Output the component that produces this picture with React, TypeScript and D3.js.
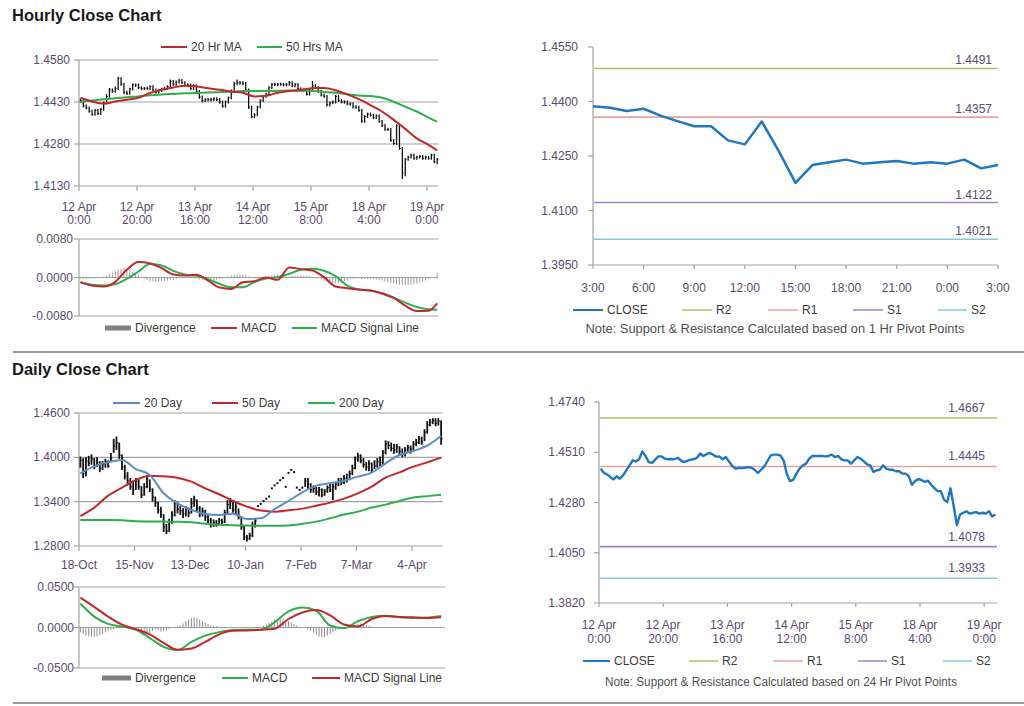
import React from 'react';
import * as d3 from 'd3';

// ---------------- Hourly data (12 Apr 0:00 .. 19 Apr 3:00, one per trading hour) ----------------
const hourlyTickLabels = [
  ['12 Apr', '0:00'], ['12 Apr', '20:00'], ['13 Apr', '16:00'], ['14 Apr', '12:00'],
  ['15 Apr', '8:00'], ['18 Apr', '4:00'], ['19 Apr', '0:00'],
];
const hourlyClose = [
  1.4435, 1.4416, 1.4409, 1.4397, 1.4386, 1.4400, 1.4389, 1.4404, 1.4427, 1.4450,
  1.4473, 1.4468, 1.4478, 1.4514, 1.4493, 1.4465, 1.4461, 1.4476, 1.4491, 1.4491,
  1.4481, 1.4478, 1.4479, 1.4478, 1.4485, 1.4473, 1.4465, 1.4471, 1.4476, 1.4478,
  1.4484, 1.4504, 1.4493, 1.4501, 1.4507, 1.4499, 1.4490, 1.4491, 1.4478, 1.4488,
  1.4468, 1.4448, 1.4435, 1.4438, 1.4438, 1.4439, 1.4442, 1.4439, 1.4430, 1.4415,
  1.4430, 1.4445, 1.4470, 1.4496, 1.4499, 1.4499, 1.4496, 1.4473, 1.4412, 1.4378,
  1.4384, 1.4412, 1.4435, 1.4450, 1.4458, 1.4481, 1.4493, 1.4493, 1.4493, 1.4493,
  1.4491, 1.4493, 1.4499, 1.4488, 1.4493, 1.4478, 1.4473, 1.4473, 1.4458, 1.4473,
  1.4488, 1.4481, 1.4468, 1.4455, 1.4450, 1.4420, 1.4427, 1.4430, 1.4450, 1.4435,
  1.4430, 1.4430, 1.4423, 1.4423, 1.4412, 1.4412, 1.4400, 1.4361, 1.4378,
  1.4387, 1.4383, 1.4374, 1.4380, 1.4361, 1.4346, 1.4332, 1.4332, 1.4293, 1.4282,
  1.4345, 1.4264, 1.4176, 1.4225, 1.4233, 1.4240, 1.4229, 1.4233, 1.4236, 1.4229,
  1.4233, 1.4229, 1.4240, 1.4216, 1.4225,
];
const hourlyHigh = [
  1.4442, 1.4440, 1.4421, 1.4414, 1.4402, 1.4405, 1.4405, 1.4409, 1.4432, 1.4458,
  1.4480, 1.4478, 1.4485, 1.4520, 1.4518, 1.4498, 1.4470, 1.4481, 1.4496, 1.4496,
  1.4496, 1.4486, 1.4484, 1.4485, 1.4490, 1.4490, 1.4478, 1.4476, 1.4481, 1.4484,
  1.4490, 1.4510, 1.4509, 1.4507, 1.4513, 1.4512, 1.4504, 1.4497, 1.4496, 1.4494,
  1.4493, 1.4473, 1.4453, 1.4443, 1.4444, 1.4445, 1.4447, 1.4447, 1.4444, 1.4435,
  1.4435, 1.4450, 1.4475, 1.4502, 1.4510, 1.4505, 1.4504, 1.4501, 1.4478, 1.4417,
  1.4390, 1.4417, 1.4440, 1.4455, 1.4463, 1.4486, 1.4498, 1.4499, 1.4498, 1.4499,
  1.4498, 1.4498, 1.4505, 1.4504, 1.4498, 1.4498, 1.4483, 1.4479, 1.4478, 1.4478,
  1.4505, 1.4493, 1.4486, 1.4473, 1.4460, 1.4455, 1.4432, 1.4435, 1.4455, 1.4455,
  1.4440, 1.4436, 1.4435, 1.4429, 1.4428, 1.4418, 1.4417, 1.4405, 1.4383,
  1.4392, 1.4392, 1.4388, 1.4385, 1.4385, 1.4366, 1.4351, 1.4338, 1.4337, 1.4298,
  1.4350, 1.4350, 1.4269, 1.4230, 1.4238, 1.4245, 1.4245, 1.4238, 1.4241, 1.4241,
  1.4238, 1.4238, 1.4245, 1.4245, 1.4230,
];
const hourlyLow = [
  1.4428, 1.4411, 1.4404, 1.4392, 1.4381, 1.4381, 1.4384, 1.4384, 1.4399, 1.4422,
  1.4445, 1.4463, 1.4463, 1.4473, 1.4488, 1.4458, 1.4455, 1.4456, 1.4471, 1.4484,
  1.4476, 1.4473, 1.4472, 1.4473, 1.4473, 1.4468, 1.4460, 1.4460, 1.4466, 1.4471,
  1.4473, 1.4479, 1.4488, 1.4488, 1.4496, 1.4494, 1.4485, 1.4484, 1.4472, 1.4473,
  1.4462, 1.4442, 1.4428, 1.4430, 1.4432, 1.4432, 1.4434, 1.4433, 1.4424, 1.4410,
  1.4410, 1.4425, 1.4440, 1.4465, 1.4490, 1.4492, 1.4490, 1.4467, 1.4405, 1.4372,
  1.4372, 1.4379, 1.4407, 1.4430, 1.4445, 1.4453, 1.4476, 1.4487, 1.4487, 1.4488,
  1.4486, 1.4486, 1.4488, 1.4483, 1.4483, 1.4473, 1.4468, 1.4467, 1.4453, 1.4453,
  1.4468, 1.4476, 1.4463, 1.4450, 1.4445, 1.4414, 1.4414, 1.4422, 1.4425, 1.4430,
  1.4425, 1.4424, 1.4418, 1.4417, 1.4407, 1.4406, 1.4395, 1.4356, 1.4356,
  1.4373, 1.4378, 1.4369, 1.4369, 1.4356, 1.4341, 1.4327, 1.4326, 1.4288, 1.4277,
  1.4277, 1.4259, 1.4155, 1.4165, 1.4220, 1.4228, 1.4224, 1.4224, 1.4228, 1.4224,
  1.4224, 1.4224, 1.4224, 1.4211, 1.4208,
];
const hourlySampleIdx = [0, 4, 8, 12, 16, 20, 24, 28, 32, 36, 40, 44, 48, 52, 56, 60, 64, 68, 72, 76, 80, 84, 88, 92, 96, 100, 104, 108, 112, 116, 120, 123];
const ma20Hr = [1.4445, 1.4432, 1.4424, 1.4432, 1.4438, 1.4445, 1.4462, 1.4474, 1.4482, 1.4488, 1.4485, 1.4479, 1.4474, 1.4467, 1.4463, 1.4450, 1.4452, 1.4463, 1.4469, 1.4473, 1.4479, 1.4480, 1.4472, 1.4457, 1.4440, 1.4419, 1.4396, 1.4366, 1.4334, 1.4300, 1.4277, 1.4257];
const ma50Hr = [1.4431, 1.4435, 1.4440, 1.4443, 1.4447, 1.4450, 1.4454, 1.4457, 1.4459, 1.4461, 1.4462, 1.4464, 1.4465, 1.4467, 1.4469, 1.4469, 1.4469, 1.4470, 1.4471, 1.4470, 1.4469, 1.4466, 1.4463, 1.4458, 1.4453, 1.4451, 1.4445, 1.4431, 1.4413, 1.4396, 1.4374, 1.4360];
const hourlyMacd = [-0.00097, -0.00167, -0.00188, -0.00090, 0.00160, 0.00320, 0.00292, 0.00195, 0.00063, 0.00042, 0.00056, -0.00063, -0.00209, -0.00237, -0.00097, -0.00077, 0.0, -0.00049, 0.00210, 0.00174, 0.00146, 0.00007, -0.00188, -0.00223, -0.00251, -0.00271, -0.00334, -0.00425, -0.00585, -0.00696, -0.00689, -0.00536];
const hourlySignal = [-0.00097, -0.00153, -0.00167, -0.00139, -0.00028, 0.00125, 0.00280, 0.00251, 0.00139, 0.00063, 0.00035, -0.00035, -0.00132, -0.00202, -0.00202, -0.00097, -0.00021, 0.00007, 0.00077, 0.00160, 0.00181, 0.00139, 0.00028, -0.00167, -0.00251, -0.00271, -0.00327, -0.00418, -0.00522, -0.00612, -0.00661, -0.00668];
const hourlyDiv = [
  -0.0002, -0.0003, -0.0003, -0.0003, -0.0002, -0.0002, -0.0001, 0.0000, 0.0002, 0.0004,
  0.0007, 0.0010, 0.0013, 0.0016, 0.0018, 0.0019, 0.0017, 0.0015, 0.0012, 0.0008,
  0.0004, 0.0001, -0.0003, -0.0005, -0.0007, -0.0008, -0.0009, -0.0009, -0.0008, -0.0008,
  -0.0007, -0.0006, -0.0005, -0.0003, -0.0002, -0.0001, 0.0000, 0.0001, 0.0001, -0.0001,
  -0.0002, -0.0004, -0.0005, -0.0006, -0.0007, -0.0007, -0.0006, -0.0005, -0.0003, -0.0002,
  0.0000, 0.0002, 0.0004, 0.0005, 0.0006, 0.0006, 0.0005, 0.0004, 0.0002, 0.0000,
  -0.0002, -0.0002, -0.0001, 0.0001, 0.0002, 0.0003, 0.0004, 0.0005, 0.0006, 0.0005,
  0.0001, 0.0002, 0.0002, 0.0003, 0.0003, 0.0004, 0.0004, 0.0003, 0.0003, 0.0002,
  0.0001, 0.0000, -0.0002, -0.0004, -0.0007, -0.0009, -0.0011, -0.0012, -0.0012, -0.0011,
  -0.0010, -0.0008, -0.0006, -0.0004, -0.0003, -0.0002, -0.0002, -0.0003, -0.0003, -0.0003,
  -0.0003, -0.0003, -0.0004, -0.0005, -0.0006, -0.0008, -0.0010, -0.0012, -0.0013, -0.0014,
  -0.0015, -0.0015, -0.0016, -0.0016, -0.0015, -0.0014, -0.0013, -0.0011, -0.0009, -0.0006,
  -0.0003, -0.0001, 0.0000, 0.0010,
];
const hourlyMainTicks = [1.4130, 1.4280, 1.4430, 1.4580];
const hourlyMacdTicks = [-0.008, 0.0, 0.008];

// ---------------- Hourly pivot chart (last 24 hours) ----------------
const pivotHourLabels = ['3:00', '6:00', '9:00', '12:00', '15:00', '18:00', '21:00', '0:00', '3:00'];
const pivotHourClose = [
  1.4387, 1.4383, 1.4374, 1.4380, 1.4361, 1.4346, 1.4332, 1.4332, 1.4293, 1.4282,
  1.4345, 1.4264, 1.4176, 1.4225, 1.4233, 1.4240, 1.4229, 1.4233, 1.4236, 1.4229,
  1.4233, 1.4229, 1.4240, 1.4216, 1.4225,
];
const pivotHourTicks = [1.3950, 1.4100, 1.4250, 1.4400, 1.4550];
const levelNames = ['R2', 'R1', 'S1', 'S2'];
const hourPivotLevels = [1.4491, 1.4357, 1.4122, 1.4021];
const dayPivotLevels = [1.4667, 1.4445, 1.4078, 1.3933];
const pivotDayTicks = [1.3820, 1.4050, 1.4280, 1.4510, 1.4740];

// ---------------- Daily data (18-Oct .. 19-Apr, trading days) ----------------
const dailyTickLabels = ['18-Oct', '15-Nov', '13-Dec', '10-Jan', '7-Feb', '7-Mar', '4-Apr'];
const dailyClose = [
  1.3960, 1.3780, 1.3950, 1.3920, 1.3980, 1.3890, 1.3930, 1.3850, 1.3900, 1.3940,
  1.3880, 1.3990, 1.4150, 1.4200, 1.4030, 1.3870, 1.3740, 1.3680, 1.3600, 1.3560,
  1.3680, 1.3600, 1.3490, 1.3600, 1.3700, 1.3570, 1.3460, 1.3380, 1.3290, 1.3230,
  1.3060, 1.3000, 1.3120, 1.3220, 1.3380, 1.3300, 1.3280, 1.3240, 1.3300, 1.3250,
  1.3380, 1.3420, 1.3310, 1.3240, 1.3270, 1.3190, 1.3150, 1.3090, 1.3120, 1.3100,
  1.3150, 1.3120, 1.3250, 1.3360, 1.3400, 1.3290, 1.3330, 1.3190, 1.3060, 1.2920,
  1.2900, 1.2940, 1.3080, 1.3140, 1.3340, 1.3370, 1.3410, 1.3440, 1.3470, 1.3580,
  1.3620, 1.3650, 1.3690, 1.3720, 1.3600, 1.3790, 1.3830, 1.3800, 1.3590, 1.3560,
  1.3590, 1.3680, 1.3640, 1.3560, 1.3580, 1.3530, 1.3560, 1.3490, 1.3540, 1.3590,
  1.3560, 1.3600, 1.3640, 1.3680, 1.3660, 1.3720, 1.3700, 1.3780, 1.3850, 1.3980,
  1.4020, 1.3960, 1.3900, 1.3870, 1.3920, 1.3830, 1.3880, 1.3940, 1.3930, 1.4060,
  1.4180, 1.4160, 1.4120, 1.4100, 1.4140, 1.4080, 1.4050, 1.4100, 1.4130, 1.4110,
  1.4180, 1.4200, 1.4250, 1.4210, 1.4340, 1.4440, 1.4480, 1.4500, 1.4460, 1.4490, 1.4250,
];
const N = null;
const dailyHigh = [
  1.4010, 1.3990, 1.4000, 1.4020, 1.4040, 1.3990, 1.4000, 1.3950, 1.3950, 1.3980,
  1.3960, 1.4060, 1.4250, 1.4280, 1.4200, 1.4040, 1.3900, 1.3800, 1.3720, 1.3680,
  1.3720, 1.3700, 1.3610, 1.3650, 1.3760, 1.3700, 1.3580, 1.3470, 1.3400, 1.3330,
  1.3230, 1.3100, 1.3170, 1.3270, 1.3420, 1.3400, 1.3340, 1.3310, 1.3340, 1.3320,
  1.3450, 1.3480, 1.3430, 1.3340, 1.3320, 1.3290, 1.3230, 1.3180, 1.3160, 1.3150,
  1.3180, 1.3170, 1.3290, 1.3420, 1.3450, 1.3400, 1.3380, 1.3310, 1.3200, 1.3070,
  1.2950, 1.2980, 1.3130, 1.3170, N, N, N, N, N, N,
  N, N, N, N, N, N, N, N, N, N,
  N, 1.3720, 1.3720, 1.3650, 1.3620, 1.3600, 1.3600, 1.3580, 1.3570, 1.3620,
  1.3640, 1.3640, 1.3670, 1.3720, 1.3720, 1.3760, 1.3780, 1.3820, 1.3900, 1.4010,
  1.4060, 1.4040, 1.3990, 1.3940, 1.3960, 1.3930, 1.3960, 1.3990, 1.4010, 1.4100,
  1.4230, 1.4220, 1.4200, 1.4180, 1.4180, 1.4150, 1.4120, 1.4140, 1.4170, 1.4160,
  1.4220, 1.4250, 1.4290, 1.4280, 1.4380, 1.4490, 1.4520, 1.4530, 1.4530, 1.4530, 1.4500,
];
const dailyLow = [
  1.3860, 1.3720, 1.3740, 1.3880, 1.3900, 1.3840, 1.3870, 1.3800, 1.3830, 1.3860,
  1.3860, 1.3940, 1.4060, 1.4100, 1.3980, 1.3830, 1.3700, 1.3620, 1.3560, 1.3490,
  1.3560, 1.3560, 1.3450, 1.3480, 1.3580, 1.3530, 1.3400, 1.3330, 1.3240, 1.3180,
  1.2990, 1.2960, 1.2990, 1.3100, 1.3200, 1.3240, 1.3220, 1.3180, 1.3200, 1.3190,
  1.3240, 1.3330, 1.3260, 1.3190, 1.3200, 1.3140, 1.3090, 1.3050, 1.3060, 1.3060,
  1.3080, 1.3080, 1.3110, 1.3220, 1.3300, 1.3250, 1.3230, 1.3160, 1.3020, 1.2880,
  1.2860, 1.2880, 1.2920, 1.3050, N, N, N, N, N, N,
  N, N, N, N, N, N, N, N, N, N,
  N, 1.3600, 1.3560, 1.3520, 1.3520, 1.3490, 1.3470, 1.3460, 1.3480, 1.3520,
  1.3530, 1.3420, 1.3560, 1.3610, 1.3620, 1.3640, 1.3660, 1.3690, 1.3760, 1.3840,
  1.3940, 1.3920, 1.3860, 1.3820, 1.3810, 1.3800, 1.3840, 1.3860, 1.3880, 1.3900,
  1.4040, 1.4110, 1.4080, 1.4050, 1.4060, 1.4030, 1.4000, 1.4010, 1.4060, 1.4050,
  1.4100, 1.4150, 1.4180, 1.4170, 1.4220, 1.4320, 1.4420, 1.4450, 1.4420, 1.4430, 1.4170,
];
const dailySampleIdx = [0, 5, 10, 15, 20, 25, 30, 35, 40, 45, 50, 55, 60, 65, 70, 75, 80, 85, 90, 95, 100, 105, 110, 115, 120, 125, 130];
const ma20Day = [1.3784, 1.3878, 1.3932, 1.3964, 1.3842, 1.3761, 1.3513, 1.3378, 1.3288, 1.3233, 1.3220, 1.3238, 1.3166, 1.3175, 1.3301, 1.3409, 1.3527, 1.3617, 1.3648, 1.3684, 1.3739, 1.3793, 1.3919, 1.4032, 1.4086, 1.4158, 1.4289];
const ma50Day = [1.3206, 1.3319, 1.3481, 1.3590, 1.3693, 1.3752, 1.3743, 1.3725, 1.3671, 1.3581, 1.3500, 1.3409, 1.3333, 1.3279, 1.3265, 1.3283, 1.3306, 1.3346, 1.3387, 1.3441, 1.3513, 1.3603, 1.3725, 1.3797, 1.3874, 1.3932, 1.3996];
const ma200Day = [1.3152, 1.3152, 1.3152, 1.3150, 1.3135, 1.3132, 1.3130, 1.3128, 1.3122, 1.3100, 1.3088, 1.3080, 1.3076, 1.3075, 1.3075, 1.3078, 1.3100, 1.3130, 1.3175, 1.3225, 1.3265, 1.3320, 1.3360, 1.3410, 1.3455, 1.3475, 1.3495];
const dailyMacd = [0.0296, 0.0134, 0.0045, 0.0012, -0.0028, -0.0130, -0.0239, -0.0279, -0.0178, -0.0101, -0.0057, -0.0032, -0.0028, -0.0028, 0.0065, 0.0198, 0.0247, 0.0207, 0.0024, -0.0008, 0.0077, 0.0130, 0.0146, 0.0126, 0.0117, 0.0122, 0.0142];
const dailySignal = [0.0369, 0.0255, 0.0134, 0.0036, -0.0020, -0.0085, -0.0190, -0.0275, -0.0259, -0.0178, -0.0085, -0.0041, -0.0036, -0.0028, -0.0016, 0.0105, 0.0186, 0.0215, 0.0150, 0.0036, 0.0012, 0.0105, 0.0142, 0.0130, 0.0126, 0.0117, 0.0126];
const dailyDiv = [
  -0.0060, -0.0080, -0.0100, -0.0110, -0.0115, -0.0118, -0.0110, -0.0095, -0.0080, -0.0060,
  -0.0040, -0.0030, -0.0020, -0.0010, -0.0005, 0.0005, 0.0010, 0.0005, -0.0010, -0.0025,
  -0.0035, -0.0045, -0.0055, -0.0065, -0.0070, -0.0065, -0.0040, -0.0020, -0.0030, -0.0050,
  -0.0045, -0.0035, -0.0020, -0.0005, 0.0005, 0.0015, 0.0025, 0.0050, 0.0080, 0.0100,
  0.0115, 0.0125, 0.0120, 0.0100, 0.0080, 0.0060, 0.0045, 0.0030, 0.0020, 0.0015,
  0.0010, 0.0008, 0.0006, 0.0005, 0.0004, 0.0003, 0.0002, 0.0001, 0.0001, 0.0000,
  0.0000, 0.0001, 0.0001, 0.0002, 0.0005, 0.0010, 0.0020, 0.0035, 0.0055, 0.0075,
  0.0090, 0.0105, 0.0114, 0.0110, 0.0095, 0.0080, 0.0060, 0.0040, 0.0025, 0.0010,
  0.0005, -0.0005, -0.0020, -0.0040, -0.0065, -0.0090, -0.0110, -0.0122, -0.0120, -0.0100,
  -0.0080, -0.0060, -0.0040, -0.0025, -0.0015, -0.0010, -0.0005, 0.0005, 0.0015, 0.0030,
  0.0045, 0.0050, 0.0040, 0.0030, 0.0020, 0.0012, 0.0008, 0.0005, 0.0003, 0.0002,
  0.0001, -0.0002, -0.0004, -0.0006, -0.0005, -0.0003, -0.0002, -0.0004, -0.0006, -0.0005,
  -0.0003, -0.0002, -0.0004, -0.0006, -0.0005, -0.0003, -0.0002, -0.0001, 0.0002, 0.0005, 0.0003,
];
const dailyMainTicks = [1.28, 1.34, 1.40, 1.46];
const dailyMacdTicks = [-0.05, 0.0, 0.05];

// ---------------- styling ----------------
const FONT = "'Liberation Sans', Arial, Helvetica, sans-serif";
const GRID = '#a3a3a3';
const AXLBL = '#5b4a70';
const LEG = '#3c3c3c';
const RED = '#c1272d';
const GREEN = '#2db04b';
const BLUE20 = '#5a8dc8';
const CLOSEBLUE = '#1f77c0';
const DIVGRAY = '#8c8c8c';
const levelColors = ['#a8c466', '#e8a2a2', '#9f82c2', '#86c8de'];

type Sc = d3.ScaleLinear<number, number>;

function pathOf(xs: number[], ys: number[], x: Sc, y: Sc, curve: d3.CurveFactory = d3.curveLinear): string {
  const gen = d3.line<number>().x((_, i) => x(xs[i])).y((v) => y(v)).curve(curve);
  return gen(ys) || '';
}

function LegLine(p: { x1: number; x2: number; y: number; color: string; label: string; w?: number; tx?: number }) {
  return (
    <g>
      <line x1={p.x1} x2={p.x2} y1={p.y} y2={p.y} stroke={p.color} strokeWidth={p.w ?? 2} />
      <text x={p.tx ?? p.x2 + 4} y={p.y + 4} fontSize={12} fill={LEG}>{p.label}</text>
    </g>
  );
}

function LegBox(p: { x1: number; x2: number; y: number; label: string }) {
  return (
    <g>
      <rect x={p.x1} y={p.y - 2.5} width={p.x2 - p.x1} height={5} fill="#7f7f7f" />
      <text x={p.x2 + 4} y={p.y + 4} fontSize={12} fill={LEG}>{p.label}</text>
    </g>
  );
}

export default function App() {
  // scales
  const xH = d3.scaleLinear().domain([0, 124]).range([79, 438.6]);
  const yH = d3.scaleLinear().domain([1.413, 1.458]).range([186, 60]);
  const yHM = d3.scaleLinear().domain([-0.008, 0.008]).range([316, 239]);
  const xHP = d3.scaleLinear().domain([0, 24]).range([593, 998]);
  const yHP = d3.scaleLinear().domain([1.395, 1.455]).range([265, 47]);
  const xD = d3.scaleLinear().domain([0, 131]).range([79, 442.5]);
  const yD = d3.scaleLinear().domain([1.28, 1.46]).range([546, 413]);
  const yDM = d3.scaleLinear().domain([-0.05, 0.05]).range([668, 587]);
  const xDP = d3.scaleLinear().domain([0, 124]).range([599, 997]);
  const yDP = d3.scaleLinear().domain([1.382, 1.474]).range([603, 402]);

  const hIdxMid = hourlySampleIdx.map((i) => i + 0.5);
  const dIdxMid = dailySampleIdx.map((i) => i + 0.5);
  const hAll = hourlyClose.map((_, i) => i + 0.5);
  const hPiv = pivotHourClose.map((_, i) => i);
  const smooth = d3.curveMonotoneX;

  const hTickIdx = hourlyTickLabels.map((_, k) => k * 20);
  const dTickIdx = dailyTickLabels.map((_, k) => k * 20);

  return (
    <svg width={1024} height={706} viewBox="0 0 1024 706"
      style={{ position: 'absolute', left: 0, top: 0, background: '#fff', fontFamily: FONT }}>
      <rect x={0} y={0} width={1024} height={706} fill="#fff" />

      {/* Titles and separators */}
      <text x={12} y={21} fontSize={16.5} fontWeight="bold" fill="#1a1a1a">Hourly Close Chart</text>
      <text x={12} y={375} fontSize={16.5} fontWeight="bold" fill="#1a1a1a">Daily Close Chart</text>
      <line x1={13} x2={1024} y1={352} y2={352} stroke="#9a9a9a" strokeWidth={2} />
      <line x1={13} x2={1024} y1={703} y2={703} stroke="#9a9a9a" strokeWidth={2} />

      {/* ================= Hourly main ================= */}
      <g>
        {hourlyMainTicks.map((v) => (
          <g key={'hg' + v}>
            <line x1={79} x2={438.6} y1={yH(v)} y2={yH(v)} stroke={GRID} strokeWidth={1.2} />
            <line x1={74} x2={79} y1={yH(v)} y2={yH(v)} stroke={GRID} strokeWidth={1.2} />
            <text x={70} y={yH(v) + 4} fontSize={12} textAnchor="end" fill={AXLBL}>{v.toFixed(4)}</text>
          </g>
        ))}
        <line x1={79} x2={79} y1={yH(1.458)} y2={yH(1.413)} stroke={GRID} strokeWidth={1.2} />
        {hTickIdx.map((t, k) => (
          <g key={'hx' + k}>
            <line x1={xH(t)} x2={xH(t)} y1={186} y2={191} stroke={GRID} strokeWidth={1.2} />
            <text x={xH(t)} y={210.5} fontSize={12} textAnchor="middle" fill={AXLBL}>{hourlyTickLabels[k][0]}</text>
            <text x={xH(t)} y={223.5} fontSize={12} textAnchor="middle" fill={AXLBL}>{hourlyTickLabels[k][1]}</text>
          </g>
        ))}
        {hourlyClose.map((c, i) => (
          <g key={'hb' + i}>
            <line x1={xH(i + 0.5)} x2={xH(i + 0.5)} y1={yH(hourlyHigh[i])} y2={yH(hourlyLow[i])} stroke="#111" strokeWidth={1.3} />
            <line x1={xH(i + 0.5)} x2={xH(i + 0.5) + 1.3} y1={yH(c)} y2={yH(c)} stroke="#111" strokeWidth={1} />
          </g>
        ))}
        <path d={pathOf(hIdxMid, ma50Hr, xH, yH, smooth)} fill="none" stroke={GREEN} strokeWidth={2} />
        <path d={pathOf(hIdxMid, ma20Hr, xH, yH, smooth)} fill="none" stroke={RED} strokeWidth={2} />
        <LegLine x1={161} x2={187} y={47} color={RED} label="20 Hr MA" />
        <LegLine x1={257} x2={282} y={47} color={GREEN} label="50 Hrs MA" />
      </g>

      {/* ================= Hourly MACD ================= */}
      <g>
        {hourlyMacdTicks.map((v) => (
          <g key={'hm' + v}>
            <line x1={79} x2={438.6} y1={yHM(v)} y2={yHM(v)} stroke={GRID} strokeWidth={1.2} />
            <line x1={74} x2={79} y1={yHM(v)} y2={yHM(v)} stroke={GRID} strokeWidth={1.2} />
            <text x={73} y={yHM(v) + 4} fontSize={12} textAnchor="end" fill={AXLBL}>{v.toFixed(4)}</text>
          </g>
        ))}
        <line x1={79} x2={79} y1={yHM(0.008)} y2={yHM(-0.008)} stroke={GRID} strokeWidth={1.2} />
        {hourlyDiv.map((v, i) => (
          <line key={'hd' + i} x1={xH(i + 0.5)} x2={xH(i + 0.5)} y1={yHM(0)} y2={yHM(v)} stroke={DIVGRAY} strokeWidth={0.9} />
        ))}
        <path d={pathOf(hIdxMid, hourlySignal, xH, yHM, smooth)} fill="none" stroke={GREEN} strokeWidth={2} />
        <path d={pathOf(hIdxMid, hourlyMacd, xH, yHM, smooth)} fill="none" stroke={RED} strokeWidth={2} />
        <LegBox x1={105} x2={131} y={328} label="Divergence" />
        <LegLine x1={211} x2={237} y={328} color={RED} label="MACD" />
        <LegLine x1={292} x2={317} y={328} color={GREEN} label="MACD Signal Line" />
      </g>

      {/* ================= Hourly pivot ================= */}
      <g>
        <line x1={593} x2={593} y1={yHP(1.455)} y2={yHP(1.395)} stroke={GRID} strokeWidth={1.2} />
        <line x1={593} x2={998} y1={yHP(1.395)} y2={yHP(1.395)} stroke={GRID} strokeWidth={1.2} />
        {pivotHourTicks.map((v) => (
          <g key={'hpt' + v}>
            <line x1={588} x2={593} y1={yHP(v)} y2={yHP(v)} stroke={GRID} strokeWidth={1.2} />
            <text x={578} y={yHP(v) + 4} fontSize={12} textAnchor="end" fill={AXLBL}>{v.toFixed(4)}</text>
          </g>
        ))}
        {pivotHourLabels.map((lab, k) => (
          <g key={'hpx' + k}>
            <line x1={xHP(k * 3)} x2={xHP(k * 3)} y1={265} y2={269} stroke={GRID} strokeWidth={1.2} />
            <text x={xHP(k * 3)} y={291.5} fontSize={12} textAnchor="middle" fill={AXLBL}>{lab}</text>
          </g>
        ))}
        {hourPivotLevels.map((v, k) => (
          <g key={'hpl' + k}>
            <line x1={594} x2={998} y1={yHP(v)} y2={yHP(v)} stroke={levelColors[k]} strokeWidth={1.6} />
            <text x={992} y={yHP(v) - 4} fontSize={12} textAnchor="end" fill={AXLBL}>{v.toFixed(4)}</text>
          </g>
        ))}
        <path d={pathOf(hPiv, pivotHourClose, xHP, yHP)} fill="none" stroke={CLOSEBLUE} strokeWidth={2.5} strokeLinejoin="round" />
        <LegLine x1={573} x2={603} y={310} color={CLOSEBLUE} label="CLOSE" />
        {levelNames.map((nm, k) => (
          <LegLine key={'hpleg' + k} x1={[682, 768, 853, 938][k]} x2={[712, 798, 883, 967][k]} y={310} color={levelColors[k]} label={nm} w={1.5} />
        ))}
        <text x={775} y={333} fontSize={12} textAnchor="middle" fill="#505050" textLength={379} lengthAdjust="spacingAndGlyphs">
          Note: Support &amp; Resistance Calculated based on 1 Hr Pivot Points
        </text>
      </g>

      {/* ================= Daily main ================= */}
      <g>
        {dailyMainTicks.map((v) => (
          <g key={'dg' + v}>
            <line x1={79} x2={442.5} y1={yD(v)} y2={yD(v)} stroke={GRID} strokeWidth={1.2} />
            <line x1={74} x2={79} y1={yD(v)} y2={yD(v)} stroke={GRID} strokeWidth={1.2} />
            <text x={70} y={yD(v) + 4} fontSize={12} textAnchor="end" fill={AXLBL}>{v.toFixed(4)}</text>
          </g>
        ))}
        <line x1={79} x2={79} y1={yD(1.46)} y2={yD(1.28)} stroke={GRID} strokeWidth={1.2} />
        {dTickIdx.map((t, k) => (
          <g key={'dx' + k}>
            <line x1={xD(t)} x2={xD(t)} y1={546} y2={551} stroke={GRID} strokeWidth={1.2} />
            <text x={xD(t)} y={569} fontSize={12} textAnchor="middle" fill={AXLBL}>{dailyTickLabels[k]}</text>
          </g>
        ))}
        {dailyClose.map((c, i) => {
          const h = dailyHigh[i];
          const l = dailyLow[i];
          const x = xD(i + 0.5);
          if (h == null || l == null) {
            return <rect key={'db' + i} x={x - 1} y={yD(c) - 1} width={2} height={2} fill="#111" />;
          }
          return (
            <g key={'db' + i}>
              <line x1={x} x2={x} y1={yD(h)} y2={yD(l)} stroke="#111" strokeWidth={1.8} />
              <line x1={x} x2={x + 1.4} y1={yD(c)} y2={yD(c)} stroke="#111" strokeWidth={1.2} />
            </g>
          );
        })}
        <path d={pathOf(dIdxMid, ma200Day, xD, yD, smooth)} fill="none" stroke={GREEN} strokeWidth={2} />
        <path d={pathOf(dIdxMid, ma50Day, xD, yD, smooth)} fill="none" stroke={RED} strokeWidth={2} />
        <path d={pathOf(dIdxMid, ma20Day, xD, yD, smooth)} fill="none" stroke={BLUE20} strokeWidth={2} />
        <LegLine x1={113} x2={140} y={403} color={BLUE20} label="20 Day" />
        <LegLine x1={212} x2={238} y={403} color={RED} label="50 Day" />
        <LegLine x1={308} x2={335} y={403} color={GREEN} label="200 Day" />
      </g>

      {/* ================= Daily MACD ================= */}
      <g>
        {dailyMacdTicks.map((v) => (
          <g key={'dm' + v}>
            <line x1={79} x2={445} y1={yDM(v)} y2={yDM(v)} stroke={GRID} strokeWidth={1.2} />
            <line x1={74} x2={79} y1={yDM(v)} y2={yDM(v)} stroke={GRID} strokeWidth={1.2} />
            <text x={74} y={yDM(v) + 4} fontSize={12} textAnchor="end" fill={AXLBL}>{v.toFixed(4)}</text>
          </g>
        ))}
        <line x1={79} x2={79} y1={yDM(0.05)} y2={yDM(-0.05)} stroke={GRID} strokeWidth={1.2} />
        {dailyDiv.map((v, i) => (
          <line key={'dd' + i} x1={xD(i + 0.5)} x2={xD(i + 0.5)} y1={yDM(0)} y2={yDM(v)} stroke={DIVGRAY} strokeWidth={1} />
        ))}
        <path d={pathOf(dIdxMid, dailyMacd, xD, yDM, smooth)} fill="none" stroke={GREEN} strokeWidth={2} />
        <path d={pathOf(dIdxMid, dailySignal, xD, yDM, smooth)} fill="none" stroke={RED} strokeWidth={2} />
        <LegBox x1={102} x2={131} y={678} label="Divergence" />
        <LegLine x1={222} x2={248} y={678} color={GREEN} label="MACD" />
        <LegLine x1={312} x2={340} y={678} color={RED} label="MACD Signal Line" />
      </g>

      {/* ================= Daily pivot (24 Hr) ================= */}
      <g>
        <line x1={599} x2={599} y1={yDP(1.474)} y2={yDP(1.382)} stroke={GRID} strokeWidth={1.2} />
        <line x1={599} x2={997} y1={yDP(1.382)} y2={yDP(1.382)} stroke={GRID} strokeWidth={1.2} />
        {pivotDayTicks.map((v) => (
          <g key={'dpt' + v}>
            <line x1={594} x2={599} y1={yDP(v)} y2={yDP(v)} stroke={GRID} strokeWidth={1.2} />
            <text x={585} y={yDP(v) + 4} fontSize={12} textAnchor="end" fill={AXLBL}>{v.toFixed(4)}</text>
          </g>
        ))}
        {hTickIdx.map((t, k) => (
          <g key={'dpx' + k}>
            <line x1={xDP(t)} x2={xDP(t)} y1={603} y2={607} stroke={GRID} strokeWidth={1.2} />
            <text x={xDP(t)} y={629} fontSize={12} textAnchor="middle" fill={AXLBL}>{hourlyTickLabels[k][0]}</text>
            <text x={xDP(t)} y={642.5} fontSize={12} textAnchor="middle" fill={AXLBL}>{hourlyTickLabels[k][1]}</text>
          </g>
        ))}
        {dayPivotLevels.map((v, k) => (
          <g key={'dpl' + k}>
            <line x1={600} x2={997} y1={yDP(v)} y2={yDP(v)} stroke={levelColors[k]} strokeWidth={1.6} />
            <text x={985} y={yDP(v) - 6} fontSize={12} textAnchor="end" fill={AXLBL}>{v.toFixed(4)}</text>
          </g>
        ))}
        <path d={pathOf(hAll, hourlyClose, xDP, yDP)} fill="none" stroke={CLOSEBLUE} strokeWidth={2.4} strokeLinejoin="round" />
        <LegLine x1={583} x2={610} y={661} color={CLOSEBLUE} label="CLOSE" />
        {levelNames.map((nm, k) => (
          <LegLine key={'dpleg' + k} x1={[689, 773, 858, 943][k]} x2={[718, 803, 887, 972][k]} y={661} color={levelColors[k]} label={nm} w={1.5} />
        ))}
        <text x={781} y={686} fontSize={12} textAnchor="middle" fill="#505050" textLength={352} lengthAdjust="spacingAndGlyphs">
          Note: Support &amp; Resistance Calculated based on 24 Hr Pivot Points
        </text>
      </g>
    </svg>
  );
}
